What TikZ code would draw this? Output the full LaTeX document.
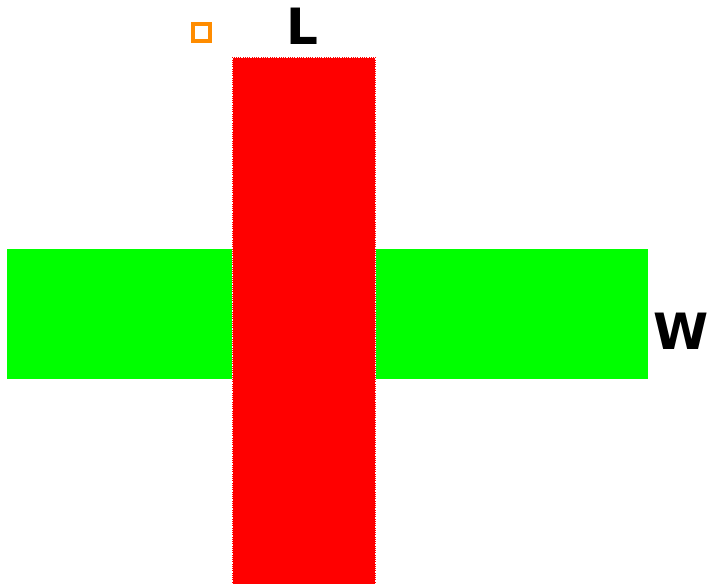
\documentclass[tikz,border=0pt]{standalone}
\usepackage{fontspec}
\setmainfont{DejaVu Sans}
\tikzset{
  px/.style={x=1pt,y=-1pt},
  lbl/.style={font=\bfseries\fontsize{50}{50}\selectfont, inner sep=0pt, anchor=base},
}
\begin{document}
\begin{tikzpicture}[px]
\useasboundingbox (0,0) rectangle (710,584);
\fill[green] (7,249) rectangle (648,379);
\fill[red] (232,57) rectangle (376,584);
\draw[white, line width=0.8pt, densely dotted] (232.5,584) -- (232.5,57.5) -- (375.5,57.5) -- (375.5,584);
\draw[orange!90!yellow, line width=4pt] (193,24) rectangle (210,41);
\node[lbl] (L) at (302,44) {L};
\node[lbl] (W) at (681,349) {W};
\end{tikzpicture}
\end{document}
